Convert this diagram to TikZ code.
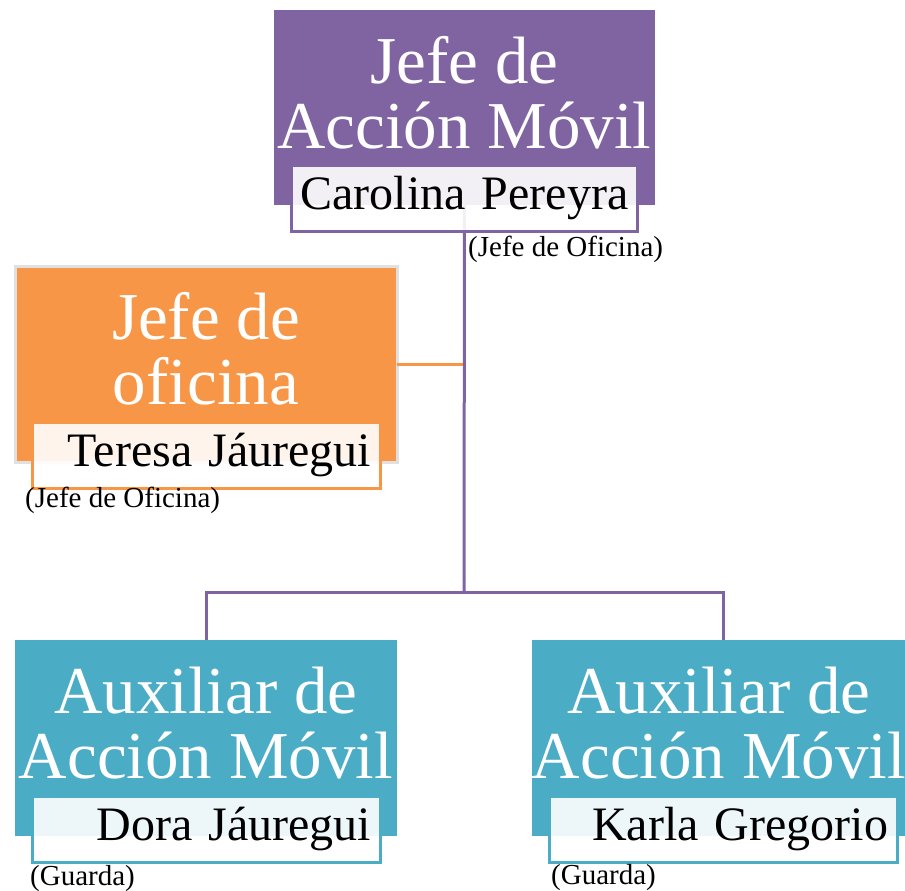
\documentclass[tikz,border=0pt]{standalone}
\usepackage{fontspec}
\setmainfont{Liberation Serif}
\usepackage{tikz}
\usetikzlibrary{positioning}
\usepackage{xcolor}
\definecolor{jampurple}{RGB}{128, 100, 162}
\definecolor{oforange}{RGB}{247, 150, 70}
\definecolor{auxteal}{RGB}{75, 172, 198}

\begin{document}
\begin{tikzpicture}[
    x=1pt, y=-1pt,
    box/.style={minimum width=382pt, minimum height=196pt,
                inner sep=0pt, outer sep=0pt},
    headtxt/.style={text=white, align=center, inner sep=0pt,
                    font=\fontsize{67}{65}\selectfont},
    namebox/.style={fill=white, fill opacity=0.9, text opacity=1,
                    line width=3pt, minimum width=348pt, minimum height=66pt,
                    text width=330pt, inner xsep=9pt, inner ysep=0pt,
                    align=right, text height=33pt, text depth=10pt,
                    outer sep=0pt, font=\fontsize{48}{52}\selectfont},
    note/.style={inner sep=0pt, font=\fontsize{29}{32}\selectfont},
    link/.style={line width=3pt, jampurple},
  ]
    \useasboundingbox (0,0) rectangle (905,891);
    \clip (0,0) rectangle (905,891);

    % Boxes
    \node[box, fill=jampurple, minimum width=381pt, minimum height=195pt] (jam) at (464.5,107.5) {};
    \node[box, fill=oforange, draw=black!12, line width=3pt] (jdo) at (206,364) {};
    \node[box, fill=auxteal] (aux1) at (206,738) {};
    \node[box, fill=auxteal] (aux2) at (723,738) {};

    % Titles
    \node[headtxt] (jamhead) at ([yshift=-83pt]jam.north) {Jefe de\\Acción Móvil};
    \node[headtxt] (jdohead) at ([yshift=-83pt]jdo.north) {Jefe de\\oficina};
    \node[headtxt] (aux1head) at ([yshift=-83pt]aux1.north) {Auxiliar de\\Acción Móvil};
    \node[headtxt] (aux2head) at ([xshift=-4pt, yshift=-83pt]aux2.north) {Auxiliar de\\Acción Móvil};

    % Connectors
    \coordinate (split) at (464,592);
    \draw[line width=3pt, oforange] (jdo.east) -- (jdo.east -| split);
    \draw[link] (jam.south) -- (split);
    \draw[link] (aux1.north) |- (split) -| (aux2.north);

    % Names
    \node[namebox, draw=jampurple, minimum width=346pt, text width=328pt] (jamname) [below=-40pt of jam] {Carolina Pereyra};
    \node[namebox, draw=oforange] (jdoname) [below=-40pt of jdo] {Teresa Jáuregui};
    \node[namebox, draw=auxteal] (aux1name) [below=-40pt of aux1] {Dora Jáuregui};
    \node[namebox, draw=auxteal] (aux2name) [below=-40pt of aux2] {Karla Gregorio};

    % Notes
    \node[note, anchor=base west] (jamnote) at (468,256) {(Jefe de Oficina)};
    \node[note, anchor=base west] (jdonote) at (25,507) {(Jefe de Oficina)};
    \node[note, anchor=base west] (aux1note) at (30,885) {(Guarda)};
    \node[note, anchor=base west] (aux2note) at (551,884) {(Guarda)};
  \end{tikzpicture}
\end{document}
